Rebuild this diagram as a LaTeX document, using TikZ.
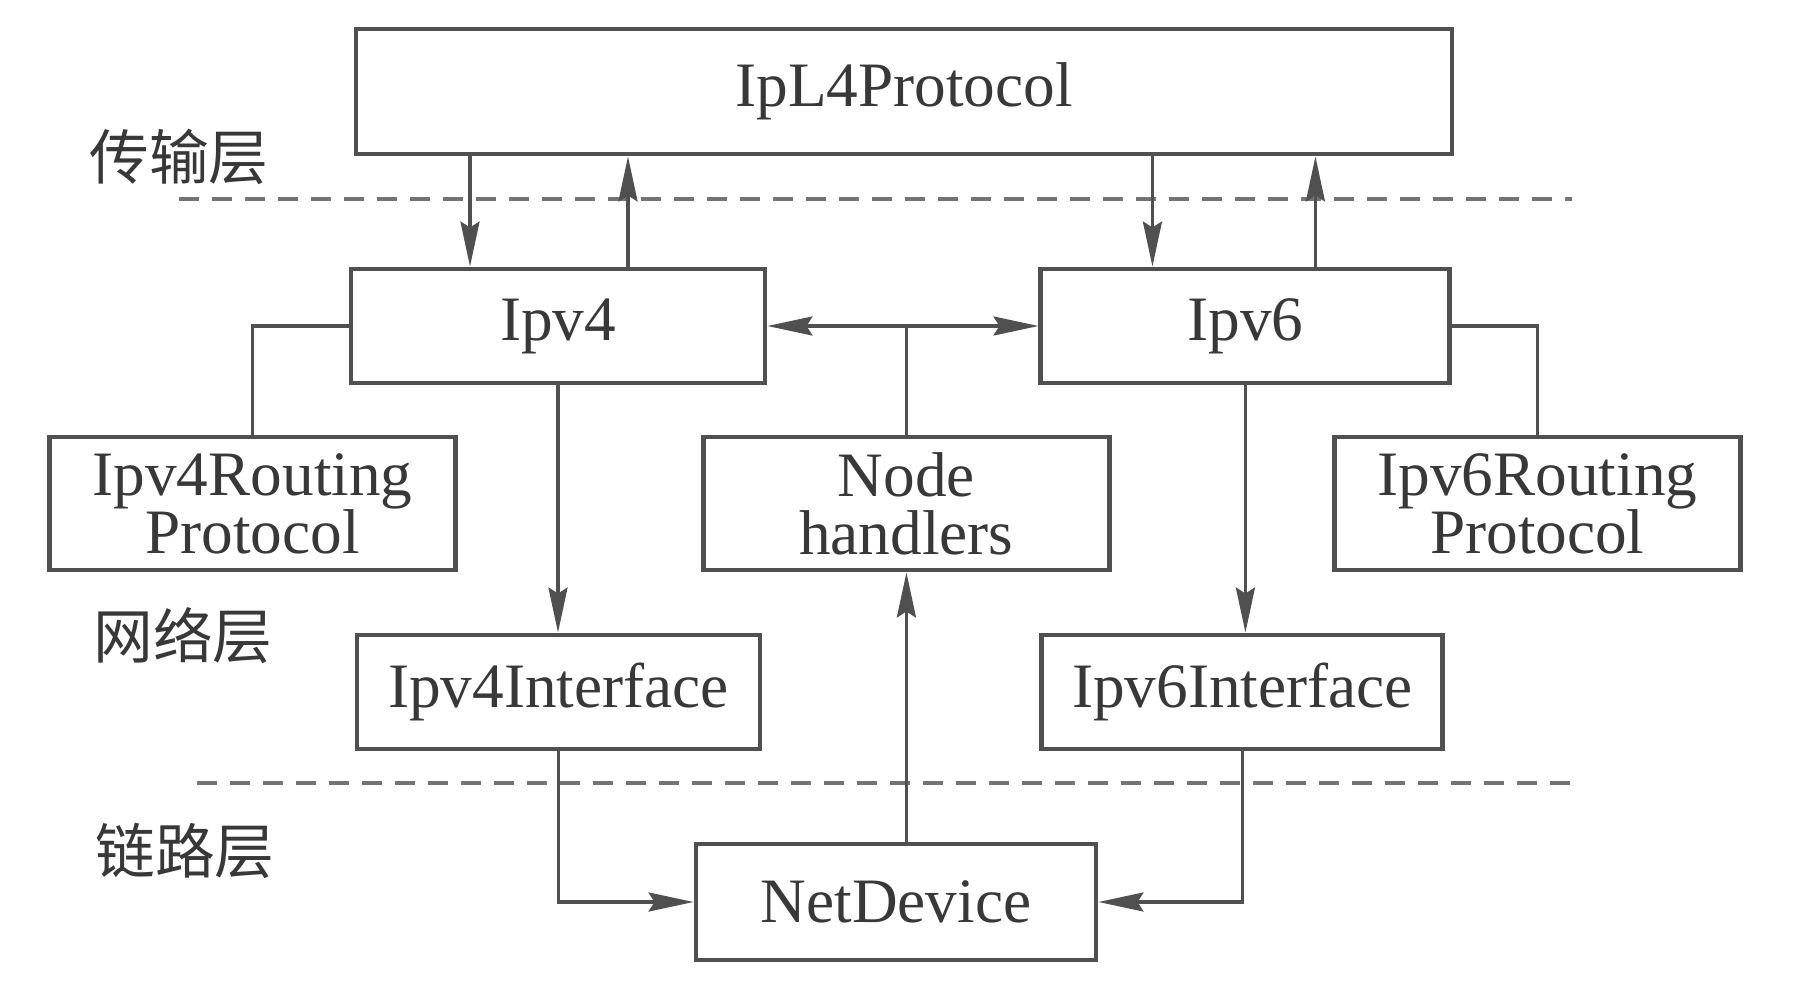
\documentclass[tikz,border=0pt]{standalone}
\usepackage{fontspec}
\setmainfont{Liberation Serif}
\newfontfamily\cjk{Noto Sans CJK SC}
\usepackage{xcolor}
\usepackage{tikz}
\usetikzlibrary{arrows.meta, positioning}

\definecolor{linegray}{HTML}{505050}
\definecolor{textgray}{HTML}{383838}

\begin{document}
\begin{tikzpicture}[
        box/.style={
            rectangle,
            draw=linegray,
            line width=1.4pt,
            minimum height=1.14cm,
            inner sep=0pt,
            align=center,
            text=textgray,
            font=\fontsize{18}{16.5}\selectfont
        },
        tallbox/.style={
            box,
            minimum width=4.06cm,
            minimum height=1.33cm
        },
        layername/.style={
            text=textgray,
            font=\cjk\fontsize{17}{17}\selectfont
        },
        arrow/.style={-{Stealth[length=4.5mm, width=1.9mm, inset=0.6mm]}, line width=0.95pt, draw=linegray},
        both/.style={arrow, {Stealth[length=4.5mm, width=1.9mm, inset=0.6mm]}-{Stealth[length=4.5mm, width=1.9mm, inset=0.6mm]}},
        line/.style={line width=0.95pt, draw=linegray},
        layer/.style={dash pattern=on 2mm off 1.3mm, line width=1.1pt, draw=linegray!80}
    ]
    \useasboundingbox (0,0) rectangle (18.13,-9.99);

    % transport layer
    \node (l4) [box, minimum width=10.96cm, minimum height=1.25cm] at (9.04,-0.915) {IpL4Protocol};

    % network layer
    \node (ipv4) [box, minimum width=4.14cm] at (5.58,-3.26) {Ipv4};
    \node (ipv6) [box, minimum width=4.09cm, right=2.71cm of ipv4] {Ipv6};

    \node (r4) [tallbox] at (2.525,-5.035) {Ipv4Routing\\Protocol};
    \node (nh) [tallbox, right=2.43cm of r4] {Node\\handlers};
    \node (r6) [tallbox, right=2.2cm of nh] {Ipv6Routing\\Protocol};

    \node (if4) [box, minimum width=4.03cm] at (5.585,-6.92) {Ipv4Interface};
    \node (if6) [box, minimum width=4.01cm, right=2.77cm of if4] {Ipv6Interface};

    % link layer
    \node (nd) [box, minimum width=4cm, minimum height=1.16cm] at (8.96,-9.02) {NetDevice};

    % layer borders and names
    \draw [layer] (1.79,-1.99) -- (15.72,-1.99);
    \draw [layer] (1.97,-7.83) -- (15.72,-7.83);
    \node (transport) [layername] at (1.79,-1.57) {传输层};
    \node (network) [layername] at (1.83,-6.36) {网络层};
    \node (link) [layername] at (1.85,-8.51) {链路层};

    \draw [arrow] ([xshift=-8.8mm]ipv4.north |- l4.south) -- ([xshift=-8.8mm]ipv4.north);
    \draw [arrow] ([xshift=7mm]ipv4.north) -- ([xshift=7mm]ipv4.north |- l4.south);
    \draw [arrow] ([xshift=-9.3mm]ipv6.north |- l4.south) -- ([xshift=-9.3mm]ipv6.north);
    \draw [arrow] ([xshift=7mm]ipv6.north) -- ([xshift=7mm]ipv6.north |- l4.south);

    \draw [both] (ipv4.east) -- (ipv6.west);
    \draw [line] (nh.north) -- (nh.north |- ipv4.east);
    \draw [line] (ipv4.west) -| (r4.north);
    \draw [line] (ipv6.east) -| (r6.north);

    \draw [arrow] (ipv4.south) -- (ipv4.south |- if4.north);
    \draw [arrow] (ipv6.south) -- (ipv6.south |- if6.north);
    \draw [arrow] (nh.south |- nd.north) -- (nh.south);
    \draw [arrow] (if4.south) |- (nd.west);
    \draw [arrow] (if6.south) |- (nd.east);

    \end{tikzpicture}
\end{document}
